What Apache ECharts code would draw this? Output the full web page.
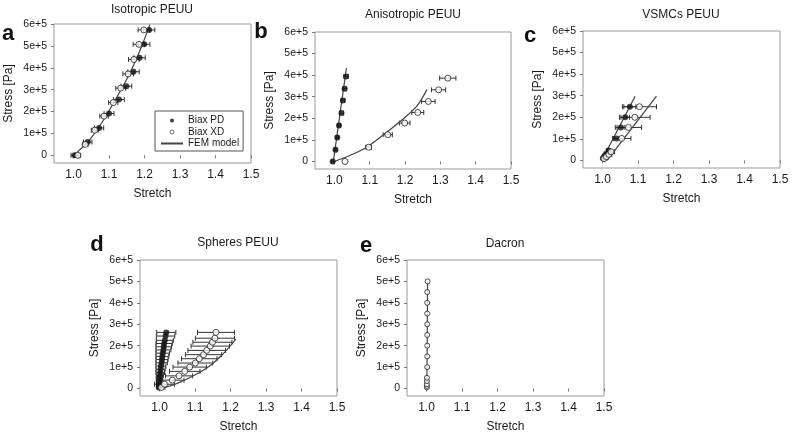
<!DOCTYPE html>
<html><head><meta charset="utf-8">
<script src="https://cdn.jsdelivr.net/npm/echarts@6/dist/echarts.min.js"></script>
<style>html,body{margin:0;padding:0;background:#fff}#c{width:800px;height:442px}</style>
</head><body><div id="c"></div>
<script>
// ---------- tick labels ----------
const xTicks = [1.0, 1.1, 1.2, 1.3, 1.4, 1.5];
const yTicks = [0, 100000, 200000, 300000, 400000, 500000, 600000];
const yTickLabels = ['0', '1e+5', '2e+5', '3e+5', '4e+5', '5e+5', '6e+5'];
const panelTitles = ['Isotropic PEUU', 'Anisotropic PEUU', 'VSMCs PEUU', 'Spheres PEUU', 'Dacron'];
const panelLetters = ['a', 'b', 'c', 'd', 'e'];

// ---------- a: Isotropic PEUU ----------
const isoPD_x = [1.003, 1.040, 1.072, 1.100, 1.128, 1.149, 1.169, 1.186, 1.199, 1.213];
const isoPD_y = [0, 61000, 125000, 191000, 255000, 316000, 382000, 446000, 507000, 573000];
const isoPD_err = [0.010, 0.012, 0.013, 0.014, 0.015, 0.015, 0.016, 0.016, 0.016, 0.016];
const isoXD_x = [1.012, 1.033, 1.060, 1.086, 1.112, 1.133, 1.154, 1.170, 1.184, 1.198];
const isoXD_y = [0, 50000, 115000, 179000, 241000, 307000, 372000, 438000, 507000, 573000];
const isoXD_err = [0.008, 0.008, 0.010, 0.012, 0.013, 0.014, 0.015, 0.015, 0.016, 0.016];
const isoFEM_x = [1.0, 1.04, 1.08, 1.12, 1.16, 1.19, 1.215];
const isoFEM_y = [0, 60000, 150000, 260000, 380000, 490000, 597000];

// ---------- b: Anisotropic PEUU ----------
const anPD_x = [0.995, 1.003, 1.008, 1.013, 1.020, 1.024, 1.029, 1.033];
const anPD_y = [0, 54000, 111000, 167000, 224000, 283000, 337000, 394000];
const anPD_err = [0.003, 0.004, 0.004, 0.004, 0.005, 0.005, 0.005, 0.006];
const anXD_x = [1.030, 1.097, 1.151, 1.199, 1.236, 1.266, 1.295, 1.321];
const anXD_y = [0, 66000, 124000, 178000, 227000, 278000, 332000, 386000];
const anXD_err = [0, 0.008, 0.013, 0.015, 0.017, 0.019, 0.020, 0.023];
const anFEMPD_x = [0.997, 1.034];
const anFEMPD_y = [0, 433000];
const anFEMXD_x = [1.0, 1.05, 1.097, 1.153, 1.197, 1.235, 1.262];
const anFEMXD_y = [0, 32000, 72000, 142000, 200000, 260000, 333000];

// ---------- c: VSMCs PEUU ----------
const vsPD_x = [1.001, 1.005, 1.010, 1.017, 1.039, 1.052, 1.064, 1.077];
const vsPD_y = [10000, 20000, 30000, 46000, 102000, 153000, 200000, 249000];
const vsPD_err = [0.003, 0.004, 0.005, 0.006, 0.008, 0.011, 0.012, 0.017];
const vsXD_x = [1.004, 1.011, 1.018, 1.024, 1.054, 1.073, 1.091, 1.104];
const vsXD_y = [8000, 18000, 28000, 40000, 102000, 153000, 200000, 249000];
const vsXD_err = [0.004, 0.006, 0.008, 0.010, 0.026, 0.037, 0.043, 0.048];
const vsFEMPD_x = [0.998, 1.092];
const vsFEMPD_y = [0, 298000];
const vsFEMXD_x = [1.013, 1.152];
const vsFEMXD_y = [0, 298000];

// ---------- d: Spheres PEUU ----------
const spPD_x = [0.998, 0.998, 0.999, 1.000, 1.001, 1.002, 1.003, 1.004, 1.006, 1.007, 1.008, 1.009, 1.011, 1.012, 1.013, 1.015, 1.017, 1.019];
const spPD_y = [5000, 15000, 30000, 45000, 60000, 75000, 90000, 105000, 120000, 135000, 150000, 165000, 180000, 195000, 210000, 225000, 245000, 262000];
const spPD_err = [0.004, 0.006, 0.008, 0.009, 0.010, 0.012, 0.013, 0.014, 0.016, 0.017, 0.018, 0.019, 0.021, 0.022, 0.023, 0.024, 0.026, 0.027];
const spXD_x = [1.005, 1.014, 1.036, 1.055, 1.071, 1.085, 1.101, 1.112, 1.124, 1.133, 1.143, 1.149, 1.156, 1.159];
const spXD_y = [5000, 20000, 39000, 59000, 80000, 100000, 119000, 139000, 158000, 178000, 198000, 216000, 235000, 262000];
const spXD_err = [0.010, 0.028, 0.033, 0.038, 0.043, 0.047, 0.049, 0.050, 0.051, 0.053, 0.054, 0.055, 0.055, 0.052];
const spFEM_x = [1.0, 1.03, 1.06, 1.09, 1.115, 1.145, 1.17, 1.195, 1.215];
const spFEM_y = [0, 12000, 31000, 55000, 77000, 110000, 147000, 190000, 230000];

// ---------- e: Dacron ----------
const dcXD_x = [1.001, 1.001, 1.001, 1.001, 1.001, 1.002, 1.002, 1.002, 1.002, 1.002, 1.002, 1.002, 1.002, 1.003];
const dcXD_y = [5000, 12000, 20000, 35000, 50000, 100000, 150000, 200000, 250000, 300000, 350000, 400000, 450000, 500000];
const dcFEM_x = [1.001, 1.003];
const dcFEM_y = [0, 500000];

// ---------- layout ----------
const FONT = 'Liberation Sans, Arial, sans-serif';
const TXT = '#1a1a1a';
const grids = [
  {left: 54, top: 24, width: 197, height: 139},
  {left: 315, top: 32, width: 196, height: 137},
  {left: 583, top: 31, width: 197, height: 137},
  {left: 140, top: 260, width: 197, height: 136},
  {left: 407, top: 260, width: 197, height: 136}
];
const titlePos = [[152, 10], [413, 15], [681, 15], [238, 243], [505, 244]];
const letterPos = [[8, 34], [261, 32], [530, 36], [97, 245], [366, 246]];

const pairs = (xs, ys) => xs.map((x, i) => [x, ys[i]]);

function errSeries(idx, xs, ys, es) {
  return {
    type: 'custom', xAxisIndex: idx, yAxisIndex: idx, silent: true, z: 2,
    data: xs.map((x, i) => [x, ys[i], es[i]]),
    encode: {x: 0, y: 1},
    renderItem: function (params, api) {
      const x = api.value(0), y = api.value(1), e = api.value(2);
      if (!e) return {type: 'group', children: []};
      const a = api.coord([x - e, y]), b = api.coord([x + e, y]);
      const h = 2.5;
      const st = {stroke: '#333', lineWidth: 1};
      return {type: 'group', children: [
        {type: 'line', shape: {x1: a[0], y1: a[1], x2: b[0], y2: b[1]}, style: st},
        {type: 'line', shape: {x1: a[0], y1: a[1] - h, x2: a[0], y2: a[1] + h}, style: st},
        {type: 'line', shape: {x1: b[0], y1: b[1] - h, x2: b[0], y2: b[1] + h}, style: st}
      ]};
    }
  };
}
function filled(idx, name, xs, ys) {
  return {type: 'scatter', name, xAxisIndex: idx, yAxisIndex: idx, z: 4,
    symbol: 'circle', symbolSize: 6, itemStyle: {color: '#111'}, data: pairs(xs, ys)};
}
function open(idx, name, xs, ys, size) {
  return {type: 'scatter', name, xAxisIndex: idx, yAxisIndex: idx, z: 4,
    symbol: 'circle', symbolSize: size || 6,
    itemStyle: {color: '#fff', borderColor: '#222', borderWidth: 1}, data: pairs(xs, ys)};
}
function fem(idx, name, xs, ys) {
  return {type: 'line', name, xAxisIndex: idx, yAxisIndex: idx, z: 3,
    smooth: 0.3, symbol: 'none', showSymbol: false,
    lineStyle: {color: '#444', width: 1.2}, itemStyle: {color: '#444'}, data: pairs(xs, ys)};
}

const series = [
  errSeries(0, isoPD_x, isoPD_y, isoPD_err),
  errSeries(0, isoXD_x, isoXD_y, isoXD_err),
  fem(0, 'FEM model', isoFEM_x, isoFEM_y),
  filled(0, 'Biax PD', isoPD_x, isoPD_y),
  open(0, 'Biax XD', isoXD_x, isoXD_y),

  errSeries(1, anPD_x, anPD_y, anPD_err),
  errSeries(1, anXD_x, anXD_y, anXD_err),
  fem(1, 'b FEM PD', anFEMPD_x, anFEMPD_y),
  fem(1, 'b FEM XD', anFEMXD_x, anFEMXD_y),
  filled(1, 'b PD', anPD_x, anPD_y),
  open(1, 'b XD', anXD_x, anXD_y),

  errSeries(2, vsPD_x, vsPD_y, vsPD_err),
  errSeries(2, vsXD_x, vsXD_y, vsXD_err),
  fem(2, 'c FEM PD', vsFEMPD_x, vsFEMPD_y),
  fem(2, 'c FEM XD', vsFEMXD_x, vsFEMXD_y),
  filled(2, 'c PD', vsPD_x, vsPD_y),
  open(2, 'c XD', vsXD_x, vsXD_y),

  errSeries(3, spPD_x, spPD_y, spPD_err),
  errSeries(3, spXD_x, spXD_y, spXD_err),
  fem(3, 'd FEM XD', spFEM_x, spFEM_y),
  filled(3, 'd PD', spPD_x, spPD_y),
  open(3, 'd XD', spXD_x, spXD_y),

  fem(4, 'e FEM', dcFEM_x, dcFEM_y),
  open(4, 'e XD', dcXD_x, dcXD_y, 5)
];

const axisText = {fontSize: 12, color: TXT, fontFamily: FONT};
const yTickText = {fontSize: 10.5, color: TXT, fontFamily: FONT};

const option = {
  animation: false,
  backgroundColor: '#fff',
  grid: grids.map(g => Object.assign({show: true, borderColor: '#999', borderWidth: 1, backgroundColor: 'transparent', containLabel: false}, g)),
  xAxis: grids.map((g, i) => ({
    gridIndex: i, type: 'value', min: 0.945, max: 1.5,
    axisLine: {show: false}, splitLine: {show: false},
    axisTick: {show: true, length: 3, customValues: xTicks, lineStyle: {color: '#777'}},
    axisLabel: Object.assign({customValues: xTicks, formatter: v => Number(v).toFixed(1), margin: 6}, axisText),
    name: 'Stretch', nameLocation: 'middle', nameGap: 25, nameTextStyle: axisText
  })),
  yAxis: grids.map((g, i) => ({
    gridIndex: i, type: 'value', min: -35000, max: 600000,
    axisLine: {show: false}, splitLine: {show: false},
    axisTick: {show: true, length: 3, customValues: yTicks, lineStyle: {color: '#777'}},
    axisLabel: Object.assign({customValues: yTicks, margin: 7,
      formatter: v => yTickLabels[yTicks.indexOf(Math.round(v))] || ''}, yTickText),
    name: 'Stress [Pa]', nameLocation: 'middle', nameGap: 39, nameRotate: 90, nameTextStyle: axisText
  })),
  legend: {
    show: true, orient: 'vertical', left: 155, top: 111,
    padding: [4, 4, 2, 5], itemGap: 0.5, itemWidth: 22, itemHeight: 4,
    borderColor: '#555', borderWidth: 1, backgroundColor: '#fff',
    textStyle: {fontSize: 10, color: TXT, fontFamily: FONT, lineHeight: 11},
    data: [
      {name: 'Biax PD', icon: 'circle'},
      {name: 'Biax XD', icon: 'circle', itemStyle: {borderWidth: 0.8}},
      {name: 'FEM model', itemStyle: {color: 'transparent', borderColor: 'transparent', opacity: 0}}
    ],
    selectedMode: false
  },
  graphic: [].concat(
    panelTitles.map((t, i) => ({type: 'text', x: titlePos[i][0], y: titlePos[i][1],
      style: {text: t, fontSize: 12, fontFamily: FONT, fill: TXT, align: 'center', verticalAlign: 'middle'}})),
    panelLetters.map((t, i) => ({type: 'text', x: letterPos[i][0], y: letterPos[i][1],
      style: {text: t, fontSize: 22, fontWeight: 'bold', fontFamily: FONT, fill: '#111', align: 'center', verticalAlign: 'middle'}}))
  ),
  series: series
};

const chart = echarts.init(document.getElementById('c'), null, {renderer: 'canvas'});
chart.setOption(option);
</script>
</body></html>
